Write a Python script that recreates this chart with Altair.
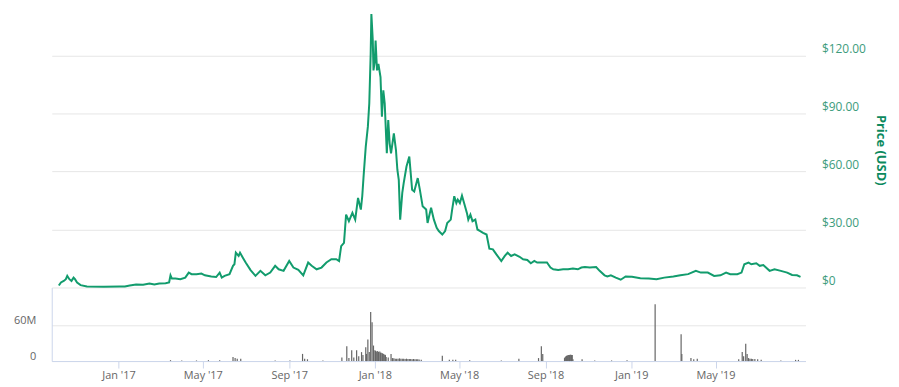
import altair as alt
import pandas as pd

# ---------------- data ----------------
price_dates = [
    "2016-10-08", "2016-10-11", "2016-10-15", "2016-10-18", "2016-10-20", "2016-10-23", "2016-10-26",
    "2016-10-29", "2016-10-31", "2016-11-03", "2016-11-08", "2016-11-17", "2016-12-11",
    "2017-01-03", "2017-01-10", "2017-01-17", "2017-01-26", "2017-02-05", "2017-02-14", "2017-02-21",
    "2017-02-28", "2017-03-09", "2017-03-14", "2017-03-16", "2017-03-18", "2017-03-23", "2017-03-30",
    "2017-04-06", "2017-04-11", "2017-04-15", "2017-04-22", "2017-04-29", "2017-05-04", "2017-05-13",
    "2017-05-20", "2017-05-25", "2017-05-28", "2017-06-01", "2017-06-08", "2017-06-13", "2017-06-15",
    "2017-06-17", "2017-06-21", "2017-06-23", "2017-06-27",
    "2017-07-01", "2017-07-08", "2017-07-15", "2017-07-22", "2017-07-29", "2017-08-05", "2017-08-12",
    "2017-08-17", "2017-08-24", "2017-09-01", "2017-09-07", "2017-09-14", "2017-09-21", "2017-09-28",
    "2017-10-03", "2017-10-10", "2017-10-17", "2017-10-24", "2017-10-31", "2017-11-07", "2017-11-11",
    "2017-11-14", "2017-11-18", "2017-11-21", "2017-11-25", "2017-11-30",
    "2017-12-04", "2017-12-08", "2017-12-12", "2017-12-14", "2017-12-16", "2017-12-19", "2017-12-22",
    "2017-12-24", "2017-12-26", "2017-12-27", "2017-12-29", "2017-12-30",
    "2018-01-01", "2018-01-02", "2018-01-04", "2018-01-06", "2018-01-09", "2018-01-11", "2018-01-13",
    "2018-01-15", "2018-01-18", "2018-01-20", "2018-01-22", "2018-01-24", "2018-01-28", "2018-01-31",
    "2018-02-02", "2018-02-04", "2018-02-06", "2018-02-09", "2018-02-11", "2018-02-15", "2018-02-19",
    "2018-02-23", "2018-02-26",
    "2018-03-03", "2018-03-06", "2018-03-10", "2018-03-15", "2018-03-17", "2018-03-22", "2018-03-26",
    "2018-03-30",
    "2018-04-02", "2018-04-07", "2018-04-11", "2018-04-14", "2018-04-19", "2018-04-21", "2018-04-24",
    "2018-04-27", "2018-04-29",
    "2018-05-02", "2018-05-05", "2018-05-08", "2018-05-12", "2018-05-14", "2018-05-17", "2018-05-20",
    "2018-05-24", "2018-05-27", "2018-05-31",
    "2018-06-04", "2018-06-09", "2018-06-13", "2018-06-18", "2018-06-23", "2018-06-30", "2018-07-05",
    "2018-07-09", "2018-07-14", "2018-07-19", "2018-07-26", "2018-07-31",
    "2018-08-06", "2018-08-11", "2018-08-16", "2018-08-20", "2018-08-27", "2018-09-03", "2018-09-08",
    "2018-09-12", "2018-09-19", "2018-09-26", "2018-10-03", "2018-10-10", "2018-10-17", "2018-10-22",
    "2018-10-27",
    "2018-11-03", "2018-11-12", "2018-11-17", "2018-11-24", "2018-11-28", "2018-12-03", "2018-12-10",
    "2018-12-17", "2018-12-24", "2019-01-02", "2019-01-14", "2019-01-26", "2019-02-06", "2019-02-17",
    "2019-03-02", "2019-03-12", "2019-03-23", "2019-04-03", "2019-04-10", "2019-04-20", "2019-04-29",
    "2019-05-08", "2019-05-16", "2019-05-22", "2019-06-01", "2019-06-07", "2019-06-11", "2019-06-17",
    "2019-06-21", "2019-06-28",
    "2019-07-03", "2019-07-08", "2019-07-17", "2019-07-24", "2019-08-02", "2019-08-11", "2019-08-18",
    "2019-08-25", "2019-08-30",
]
prices = [
    1.0, 2.6, 3.4, 4.3, 6.0, 4.3, 3.4,
    5.1, 4.3, 2.6, 1.2, 0.5, 0.4,
    0.45, 0.5, 1.0, 1.5, 1.4, 2.1, 1.5,
    2.1, 2.2, 2.6, 6.3, 4.6, 4.6, 4.3,
    5.1, 7.7, 6.9, 6.9, 7.2, 6.3, 5.7,
    5.4, 7.7, 5.1, 6.0, 6.9, 11.2, 12.0,
    18.0, 16.3, 18.0, 15.4,
    12.9, 9.0, 6.0, 8.6, 6.3, 7.7, 11.2,
    9.4, 8.6, 13.7, 10.3, 9.1, 6.3, 12.9,
    11.2, 9.4, 10.3, 12.9, 14.6, 14.6, 13.7,
    21.4, 23.1, 37.7, 34.3, 38.6,
    35.1, 46.3, 40.3, 47.2, 58.0, 72.9, 83.2,
    95.2, 120.9, 141.5, 127.7, 112.3,
    117.4, 127.7, 112.3, 115.7, 108.9, 88.3, 102.0,
    95.2, 69.4, 86.6, 74.6, 69.4, 79.7, 71.1,
    60.9, 55.7, 35.1, 48.9, 54.0, 62.6, 67.7,
    50.6, 49.7,
    56.6, 50.6, 42.0, 40.3, 33.4, 41.2, 35.1,
    30.9,
    29.2, 27.4, 29.2, 33.4, 35.1, 40.3, 47.2,
    43.7, 45.4,
    43.7, 47.5, 43.7, 38.6, 35.1, 37.7, 34.3,
    35.1, 30.0, 29.2,
    28.3, 27.4, 20.1, 19.7, 17.1, 13.7, 16.3,
    18.0, 16.3, 17.1, 15.9, 14.6,
    14.2, 12.5, 13.7, 12.9, 12.9, 12.9, 10.3,
    9.4, 9.1, 9.4, 9.4, 9.8, 9.4, 10.3,
    10.6,
    10.3, 10.6, 8.6, 6.3, 5.7, 6.3, 5.1,
    4.0, 5.7, 5.5, 4.8, 4.6, 4.3, 5.1,
    5.7, 6.3, 6.9, 8.6, 7.7, 7.7, 6.0,
    6.3, 7.7, 6.9, 6.9, 7.7, 12.0, 12.9,
    12.0, 12.5,
    11.2, 11.6, 8.6, 9.4, 8.6, 7.7, 6.5,
    6.3, 5.5,
]

vol_dates = [
    "2017-03-16", "2017-04-01", "2017-04-22", "2017-05-09", "2017-05-25", "2017-06-13", "2017-06-16",
    "2017-06-19", "2017-06-24", "2017-08-12", "2017-09-02", "2017-09-20", "2017-09-23", "2017-09-27",
    "2017-10-19",
    "2017-11-15", "2017-11-22", "2017-11-25", "2017-11-29", "2017-12-02", "2017-12-06", "2017-12-09",
    "2017-12-13", "2017-12-15", "2017-12-19", "2017-12-20", "2017-12-22", "2017-12-24", "2017-12-26",
    "2017-12-28", "2017-12-30",
    "2018-01-01", "2018-01-02", "2018-01-03", "2018-01-05", "2018-01-06", "2018-01-08", "2018-01-09",
    "2018-01-10", "2018-01-12", "2018-01-13", "2018-01-15", "2018-01-16", "2018-01-17", "2018-01-20",
    "2018-01-24", "2018-01-26", "2018-01-28", "2018-01-30", "2018-02-01", "2018-02-03", "2018-02-05",
    "2018-02-07", "2018-02-09", "2018-02-11", "2018-02-13", "2018-02-15", "2018-02-17", "2018-02-19",
    "2018-02-21", "2018-02-23", "2018-02-25", "2018-02-27", "2018-03-01", "2018-03-03", "2018-03-05",
    "2018-03-08",
    "2018-04-07", "2018-04-17", "2018-04-22", "2018-04-26", "2018-05-16", "2018-06-30", "2018-07-25",
    "2018-08-22", "2018-08-26", "2018-08-28",
    "2018-09-28", "2018-09-29", "2018-09-30", "2018-10-01", "2018-10-02", "2018-10-03", "2018-10-04",
    "2018-10-05", "2018-10-06", "2018-10-07", "2018-10-08", "2018-10-09", "2018-10-10", "2018-10-23",
    "2018-11-10", "2018-12-04", "2018-12-26",
    "2019-02-04", "2019-03-13", "2019-03-14", "2019-03-27", "2019-03-31", "2019-04-05",
    "2019-06-03", "2019-06-08", "2019-06-10", "2019-06-13", "2019-06-15", "2019-06-17", "2019-06-19",
    "2019-06-21", "2019-06-23", "2019-06-26", "2019-06-30", "2019-07-05", "2019-08-02", "2019-08-23",
    "2019-08-27",
]
volumes = [  # millions USD
    1.5, 1.0, 1.0, 1.5, 1.5, 6.7, 5.0,
    4.0, 3.9, 1.0, 1.0, 12.0, 4.0, 3.0,
    1.0,
    6.0, 25.0, 5.0, 18.0, 6.0, 18.0, 8.0,
    15.0, 10.0, 23.0, 12.0, 36.0, 15.0, 82.0,
    65.0, 26.0,
    18.0, 17.0, 16.0, 17.0, 15.0, 16.0, 14.0,
    14.0, 13.0, 12.0, 11.0, 10.0, 7.0, 6.0,
    12.0, 5.0, 4.5, 4.0, 4.0, 4.0, 4.5,
    4.0, 4.0, 4.0, 3.5, 4.0, 3.5, 3.5,
    3.5, 3.0, 3.5, 3.0, 3.0, 3.0, 2.5,
    2.0,
    9.0, 2.0, 2.0, 2.0, 1.5, 1.0, 4.0,
    5.0, 25.0, 12.0,
    5.0, 7.0, 8.0, 9.0, 9.0, 10.0, 10.0,
    10.0, 10.5, 10.5, 10.0, 10.0, 3.0, 3.0,
    1.0, 1.0, 1.5,
    95.0, 45.0, 12.0, 5.0, 3.0, 4.0,
    3.0, 15.0, 8.0, 29.0, 12.0, 5.0, 4.0,
    4.0, 3.5, 3.5, 3.0, 2.0, 1.0, 2.0,
    2.0,
]

tick_months = [(2017, 1), (2017, 5), (2017, 9), (2018, 1), (2018, 5), (2018, 9), (2019, 1), (2019, 5)]
price_ticks = [0, 30, 60, 90, 120]
volume_ticks = [0, 60]

# ---------------- chart ----------------
GREEN_LINE = "#129c6d"
GREEN_LABEL = "#3d9c7c"
GREEN_TITLE = "#0c8a5e"
FONT = "Open Sans"

price_df = pd.DataFrame({"date": price_dates, "price": prices})
vol_df = pd.DataFrame({"date": vol_dates, "volume": volumes})

x_scale = alt.Scale(
    type="utc",
    domain=[alt.DateTime(year=2016, month=10, date=5, utc=True),
            alt.DateTime(year=2019, month=8, date=30, utc=True)],
)
x_axis = alt.Axis(
    values=[alt.DateTime(year=y, month=m, date=1, utc=True) for (y, m) in tick_months],
    labelExpr="utcFormat(datum.value, \"%b '%y\")",
    grid=False,
    domainColor="#ccd6eb",
    tickColor="#ccd6eb",
    tickSize=7,
    labelColor="#666666",
    labelFont=FONT,
    labelFontSize=11,
    labelPadding=2,
    title=None,
)

bars = alt.Chart(vol_df).mark_bar(size=1.2, color="#666666").encode(
    x=alt.X("date:T", scale=x_scale, axis=x_axis),
    y=alt.Y(
        "volume:Q",
        scale=alt.Scale(domain=[0, 123.3], range=[351, 277], nice=False),
        axis=alt.Axis(
            orient="left",
            values=volume_ticks,
            labelExpr="datum.value == 0 ? '0' : datum.value + 'M'",
            grid=True,
            gridColor="#e6e6e6",
            domain=True,
            domainColor="#ccd6eb",
            ticks=False,
            labelPadding=16,
            labelBaseline="bottom",
            labelColor="#666666",
            labelFont=FONT,
            labelFontSize=11,
            title=None,
        ),
    ),
)

line = alt.Chart(price_df).mark_line(color=GREEN_LINE, strokeWidth=2).encode(
    x=alt.X("date:T", scale=x_scale, axis=x_axis),
    y=alt.Y(
        "price:Q",
        scale=alt.Scale(domain=[0, 142.5], range=[277, 0], nice=False),
        axis=alt.Axis(
            orient="right",
            values=price_ticks,
            labelExpr="datum.value == 0 ? '$0' : '$' + format(datum.value, '.2f')",
            grid=True,
            gridColor="#e6e6e6",
            domain=False,
            ticks=False,
            labelPadding=16,
            labelBaseline="bottom",
            labelColor=GREEN_LABEL,
            labelFont=FONT,
            labelFontSize=12,
            title="Price (USD)",
            titleColor=GREEN_TITLE,
            titleFont=FONT,
            titleFontSize=13,
            titleFontWeight="bold",
            titleAngle=90,
            titlePadding=8,
        ),
    ),
)

chart = (
    alt.layer(bars, line)
    .resolve_scale(y="independent")
    .properties(
        width=758,
        height=351,
        padding={"left": 5, "top": 0, "right": 4, "bottom": 0},
        background="white",
    )
    .configure_view(stroke=None)
)

chart.save("out.html", embed_options={"renderer": "svg", "actions": False})
